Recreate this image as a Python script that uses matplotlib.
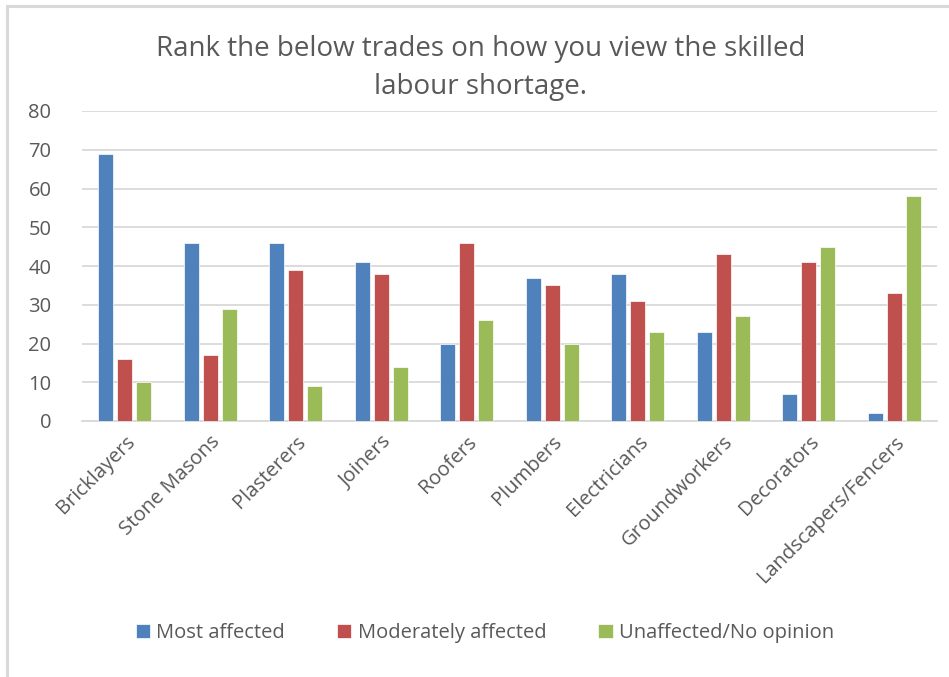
import numpy as np
import matplotlib

matplotlib.use("Agg")

import matplotlib.pyplot as plt
from matplotlib.patches import Rectangle

plt.rcParams["font.family"] = ["Open Sans", "DejaVu Sans"]

trades = ["Bricklayers", "Stone Masons", "Plasterers", "Joiners", "Roofers",
          "Plumbers", "Electricians", "Groundworkers", "Decorators",
          "Landscapers/Fencers"]
most_affected = [69, 46, 46, 41, 20, 37, 38, 23, 7, 2]
moderately_affected = [16, 17, 39, 38, 46, 35, 31, 43, 41, 33]
unaffected = [10, 29, 9, 14, 26, 20, 23, 27, 45, 58]

series = [
    ("Most affected", most_affected, "#4F81BD"),
    ("Moderately affected", moderately_affected, "#C0504D"),
    ("Unaffected/No opinion", unaffected, "#9BBB59"),
]

text_col = "#595959"
grid_col = "#D9D9D9"

fig = plt.figure(figsize=(9.49, 6.77), dpi=100)

# outer chart border (partially cropped in the original)
fig.patches.append(Rectangle((7 / 949, -0.01), 1.0, 1 - 6 / 677 + 0.01,
                             transform=fig.transFigure, fill=False,
                             edgecolor="#D9D9D9", linewidth=2.2))

ax = fig.add_axes([82 / 949, 1 - 421 / 677, (937 - 82) / 949, (421 - 111) / 677])

x = np.arange(len(trades))
width = 0.175
step = 0.222
for i, (name, vals, col) in enumerate(series):
    ax.bar(x + (i - 1) * step, vals, width, color=col, label=name,
           edgecolor="white", linewidth=0.5, zorder=3)

ax.set_xlim(-0.5, len(trades) - 0.5)
ax.set_ylim(0, 80)
ax.set_yticks(np.arange(0, 81, 10))
ax.yaxis.grid(True, color=grid_col, linewidth=1.3, zorder=0)
for s in ["top", "right", "left"]:
    ax.spines[s].set_visible(False)
ax.spines["bottom"].set_color(grid_col)
ax.spines["bottom"].set_linewidth(1.3)
ax.tick_params(axis="both", length=0, colors=text_col, labelsize=14.5)
ax.tick_params(axis="y", pad=22)
ax.set_xticks(x)
ax.set_xticklabels(trades, rotation=45, ha="right", rotation_mode="anchor")
ax.tick_params(axis="x", pad=8)

fig.text(0.506, 1 - 68 / 677, "Rank the below trades on how you view the skilled\nlabour shortage.",
         ha="center", va="center", fontsize=20, color=text_col, linespacing=1.45)

handles, labels = ax.get_legend_handles_labels()
fig.legend(handles, labels, loc="center", bbox_to_anchor=(0.511, 1 - 633 / 677),
           ncol=3, frameon=False, fontsize=14.5, labelcolor=text_col,
           handlelength=0.7, handleheight=0.7, handletextpad=0.3, columnspacing=2.6)

fig.savefig("out.png", dpi=100)
